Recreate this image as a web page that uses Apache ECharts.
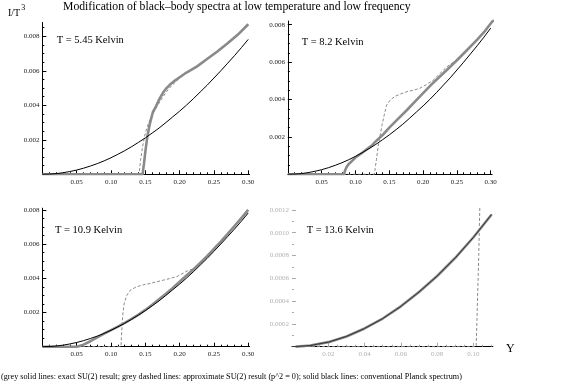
<!DOCTYPE html>
<html><head><meta charset="utf-8">
<script src="https://cdn.jsdelivr.net/npm/echarts@6/dist/echarts.min.js"></script>
<style>html,body{margin:0;padding:0;background:#fff}#c{width:565px;height:386px}</style>
</head><body><div id="c"></div>
<script>
const titleText = 'Modification of black\u2013body spectra at low temperature and low frequency';
const footnote = '(grey solid lines: exact SU(2) result; grey dashed lines: approximate SU(2) result (p^2 = 0); solid black lines: conventional Planck spectrum)';
const panelLabels = ['T = 5.45 Kelvin', 'T = 8.2 Kelvin', 'T = 10.9 Kelvin', 'T = 13.6 Kelvin'];

// Tick labels
const xTicksWide = [0.05, 0.10, 0.15, 0.20, 0.25, 0.30];
const yTicksWide = [0.002, 0.004, 0.006, 0.008];
const xTicksNarrow = [0.02, 0.04, 0.06, 0.08, 0.10];
const yTicksNarrow = [0.0002, 0.0004, 0.0006, 0.0008, 0.0010, 0.0012];

// Conventional Planck spectrum (black), same in all panels
const planckX = [0, 0.01, 0.02, 0.03, 0.04, 0.05, 0.06, 0.07, 0.08, 0.09, 0.10, 0.11, 0.12, 0.13, 0.14, 0.15, 0.16, 0.17, 0.18, 0.19, 0.20, 0.21, 0.22, 0.23, 0.24, 0.25, 0.26, 0.27, 0.28, 0.29, 0.30];
const planckY = [0, 0.00001, 0.00004, 0.00009, 0.00016, 0.000247, 0.000354, 0.00048, 0.00062, 0.00078, 0.00096, 0.00116, 0.00137, 0.0016, 0.00185, 0.00211, 0.00239, 0.00268, 0.003, 0.00333, 0.00366, 0.00401, 0.00438, 0.00477, 0.00516, 0.00558, 0.006, 0.00644, 0.00688, 0.00734, 0.00782];

// T = 5.45 K
const exact545X = [0, 0.146, 0.148, 0.150, 0.153, 0.157, 0.161, 0.165, 0.171, 0.177, 0.181, 0.186, 0.192, 0.198, 0.21, 0.225, 0.24, 0.255, 0.27, 0.285, 0.30];
const exact545Y = [0, 0, 0.0006, 0.0013, 0.0022, 0.003, 0.0036, 0.0039, 0.0044, 0.0048, 0.005, 0.0052, 0.0054, 0.00557, 0.0059, 0.00624, 0.00668, 0.00712, 0.0076, 0.0081, 0.0087];
const approx545X = [0, 0.141, 0.143, 0.146, 0.150, 0.155, 0.161, 0.168, 0.176, 0.183, 0.190, 0.198, 0.21, 0.225, 0.24, 0.255, 0.27, 0.285, 0.30];
const approx545Y = [0, 0, 0.0008, 0.0016, 0.0024, 0.003, 0.0035, 0.004, 0.0045, 0.0049, 0.0052, 0.0055, 0.0059, 0.00626, 0.0067, 0.00714, 0.00762, 0.0081, 0.0087];

// T = 8.2 K
const exact82X = [0, 0.083, 0.0845, 0.087, 0.09, 0.095, 0.10, 0.11, 0.117, 0.125, 0.131, 0.14, 0.15, 0.161, 0.175, 0.195, 0.215, 0.235, 0.25, 0.265, 0.28, 0.29, 0.30, 0.305];
const exact82Y = [0, 0, 0.0002, 0.0004, 0.00055, 0.00072, 0.0009, 0.00115, 0.00135, 0.00157, 0.0018, 0.0021, 0.0025, 0.0029, 0.0034, 0.00415, 0.0049, 0.00558, 0.0061, 0.00665, 0.0072, 0.0076, 0.00807, 0.0083];
const approx82X = [0, 0.128, 0.129, 0.131, 0.1335, 0.136, 0.139, 0.142, 0.146, 0.152, 0.159, 0.167, 0.176, 0.186, 0.195, 0.205, 0.215, 0.225, 0.235, 0.245, 0.255, 0.265, 0.28, 0.29, 0.30, 0.305];
const approx82Y = [0, 0, 0.0003, 0.0008, 0.0015, 0.002, 0.0026, 0.0031, 0.0037, 0.004, 0.00418, 0.0043, 0.00442, 0.0045, 0.0046, 0.0048, 0.00504, 0.0054, 0.00575, 0.006, 0.0063, 0.0067, 0.0072, 0.0076, 0.00807, 0.0083];

// T = 10.9 K
const exact109X = [0, 0.05, 0.06, 0.07, 0.08, 0.09, 0.10, 0.11, 0.12, 0.13, 0.14, 0.15, 0.16, 0.17, 0.18, 0.19, 0.20, 0.21, 0.22, 0.23, 0.24, 0.25, 0.26, 0.27, 0.28, 0.29, 0.30];
const exact109Y = [0, 0, 0.00012, 0.00032, 0.00055, 0.00077, 0.00097, 0.00117, 0.0014, 0.00163, 0.00188, 0.00215, 0.00245, 0.00277, 0.0031, 0.00344, 0.0038, 0.00416, 0.00452, 0.0049, 0.0053, 0.00572, 0.00615, 0.0066, 0.00706, 0.00752, 0.008];
const approx109X = [0, 0.1145, 0.1155, 0.117, 0.119, 0.123, 0.128, 0.137, 0.147, 0.157, 0.167, 0.177, 0.187, 0.196, 0.205, 0.212, 0.22, 0.23, 0.24, 0.25, 0.26, 0.27, 0.28, 0.29, 0.30];
const approx109Y = [0, 0, 0.0008, 0.0018, 0.0025, 0.003, 0.0033, 0.0035, 0.00362, 0.0037, 0.0038, 0.0039, 0.004, 0.0041, 0.0043, 0.00445, 0.00455, 0.00492, 0.00532, 0.00574, 0.00617, 0.00662, 0.00708, 0.00754, 0.00802];

// T = 13.6 K
const exact136X = [0.002, 0.01, 0.02, 0.03, 0.04, 0.05, 0.06, 0.07, 0.08, 0.09, 0.10, 0.11];
const exact136Y = [0, 0.00001, 0.00004, 0.00009, 0.00016, 0.000247, 0.000354, 0.00048, 0.00062, 0.00078, 0.00096, 0.00116];
const approx136X = [0, 0.1015, 0.1022, 0.1029, 0.1036];
const approx136Y = [0, 0, 0.0004, 0.0008, 0.0013];

function zip(xs, ys) { return xs.map((x, i) => [x, ys[i]]); }
function range(step, max) { const a = []; for (let i = 1; i * step <= max + 1e-12; i++) a.push(Math.round(i * step * 1e7) / 1e7); return a; }

const font = 'Liberation Serif';
const panels = [
  { box: { left: 42.4, top: 22.5, width: 207.2, height: 151.8 }, xMax: 0.302, yMax: 0.0088, xMaj: xTicksWide, yMaj: yTicksWide, xMin: 0.01, yMin: 0.0005, xd: 2, yd: 3, faded: false,
    exact: zip(exact545X, exact545Y), approx: zip(approx545X, approx545Y), black: zip(planckX, planckY) },
  { box: { left: 287.9, top: 21, width: 204.2, height: 153.3 }, xMax: 0.302, yMax: 0.0082, xMaj: xTicksWide, yMaj: yTicksWide, xMin: 0.01, yMin: 0.0005, xd: 2, yd: 3, faded: false,
    exact: zip(exact82X, exact82Y), approx: zip(approx82X, approx82Y), black: zip(planckX, planckY) },
  { box: { left: 42.4, top: 208.2, width: 207.2, height: 138.5 }, xMax: 0.302, yMax: 0.0081, xMaj: xTicksWide, yMaj: yTicksWide, xMin: 0.01, yMin: 0.0005, xd: 2, yd: 3, faded: false,
    exact: zip(exact109X, exact109Y), approx: zip(approx109X, approx109Y), black: zip(planckX, planckY) },
  { box: { left: 292, top: 207.6, width: 200.9, height: 139.1 }, xMax: 0.1107, yMax: 0.00122, xMaj: xTicksNarrow, yMaj: yTicksNarrow, xMin: 0.005, yMin: 0.0001, xd: 2, yd: 4, faded: true,
    exact: zip(exact136X, exact136Y), approx: zip(approx136X, approx136Y), black: zip(planckX.filter(x => x <= 0.11), planckY.slice(0, 12)) }
];

const grid = [], xAxis = [], yAxis = [], series = [];
panels.forEach((p, g) => {
  grid.push(Object.assign({ outerBoundsMode: 'none', containLabel: false }, p.box));
  const tickCol = p.faded ? '#aaa' : '#000';
  const labCol = p.faded ? '#b0b0b0' : '#222';
  const xi = xAxis.length, yi = yAxis.length;
  xAxis.push({
    gridIndex: g, type: 'value', min: 0, max: p.xMax, position: 'bottom',
    axisLine: { show: true, onZero: false, lineStyle: { color: '#000', width: 1 } },
    axisTick: { show: true, inside: true, length: 4, customValues: p.xMaj, lineStyle: { color: tickCol } },
    axisLabel: { show: true, customValues: p.xMaj, margin: 4, fontFamily: font, fontSize: 7, color: labCol, formatter: v => v.toFixed(p.xd) },
    splitLine: { show: false }
  });
  xAxis.push({
    gridIndex: g, type: 'value', min: 0, max: p.xMax, position: 'bottom',
    axisLine: { show: false, onZero: false },
    axisTick: { show: true, inside: true, length: 2, customValues: range(p.xMin, p.xMax), lineStyle: { color: tickCol } },
    axisLabel: { show: false }, splitLine: { show: false }
  });
  yAxis.push({
    gridIndex: g, type: 'value', min: 0, max: p.yMax, position: 'left',
    axisLine: { show: !p.faded, onZero: false, lineStyle: { color: '#000', width: 1 } },
    axisTick: { show: true, inside: true, length: 4, customValues: p.yMaj, lineStyle: { color: tickCol } },
    axisLabel: { show: true, customValues: p.yMaj, margin: 3, fontFamily: font, fontSize: 7, color: labCol, formatter: v => v.toFixed(p.yd) },
    splitLine: { show: false }
  });
  yAxis.push({
    gridIndex: g, type: 'value', min: 0, max: p.yMax, position: 'left',
    axisLine: { show: false, onZero: false },
    axisTick: { show: true, inside: true, length: 2, customValues: range(p.yMin, p.yMax), lineStyle: { color: tickCol } },
    axisLabel: { show: false }, splitLine: { show: false }
  });
  const base = { type: 'line', xAxisIndex: xi, yAxisIndex: yi, showSymbol: false, symbol: 'none', animation: false, clip: true, silent: true };
  series.push(Object.assign({}, base, { name: 'exact' + g, data: p.exact, lineStyle: { color: '#8a8a8a', width: 2.6 }, z: 2 }));
  series.push(Object.assign({}, base, { name: 'approx' + g, data: p.approx, lineStyle: { color: '#8a8a8a', width: 1, type: [3, 2] }, z: 3 }));
  series.push(Object.assign({}, base, { name: 'planck' + g, data: p.black, lineStyle: { color: p.faded ? '#333' : '#000', width: 1 }, z: 4 }));
});

const labelPos = [[56.7, 40], [301.7, 42.7], [55, 230], [306.7, 230]];
const graphic = [
  { type: 'text', left: 63, top: 1, style: { text: titleText, font: '11.7px "Liberation Serif"', fill: '#000' } },
  { type: 'text', left: 8, top: 4, style: { text: '{a|I/T}{b|3}', rich: { a: { font: '10px "Liberation Serif"', fill: '#000', padding: [6, 0, 0, 0] }, b: { font: '8px "Liberation Serif"', fill: '#000', padding: [0, 0, 4, 1] } } } },
  { type: 'text', left: 506, top: 343, style: { text: 'Y', font: '12px "Liberation Serif"', fill: '#000' } },
  { type: 'text', left: 1, top: 373, style: { text: footnote, font: '8.2px "Liberation Serif"', fill: '#000' } }
];
panelLabels.forEach((t, i) => graphic.push({ type: 'text', x: labelPos[i][0], y: labelPos[i][1], style: { text: t, font: '10.5px "Liberation Serif"', fill: '#000', verticalAlign: 'middle' } }));

const chart = echarts.init(document.getElementById('c'), null, { renderer: 'canvas' });
chart.setOption({ animation: false, backgroundColor: '#fff', grid, xAxis, yAxis, series, graphic });
</script>
</body></html>
